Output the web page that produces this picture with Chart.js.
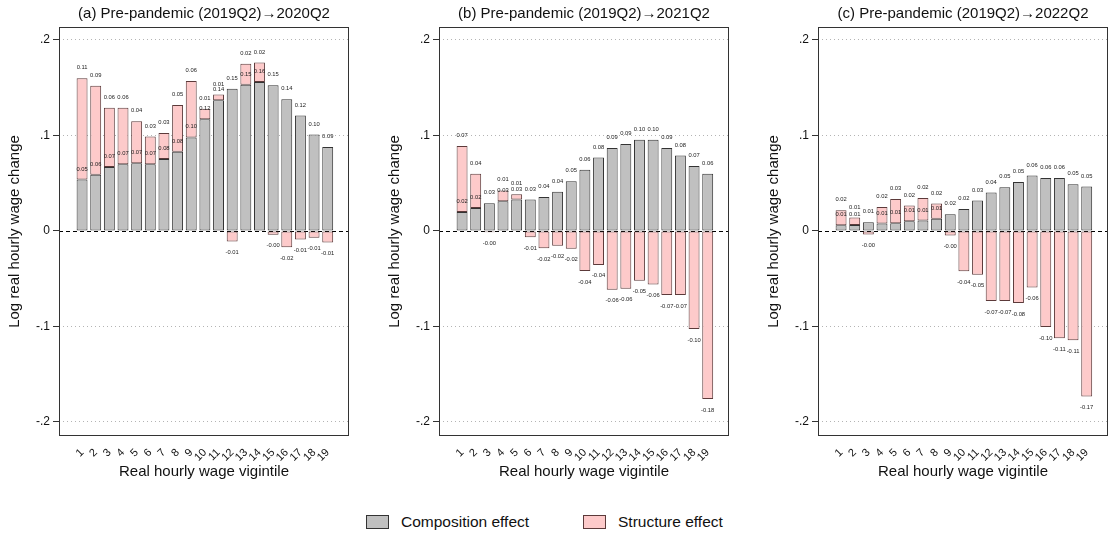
<!DOCTYPE html>
<html>
<head>
<meta charset="utf-8">
<script src="https://cdn.jsdelivr.net/npm/chart.js@4.4.1/dist/chart.umd.min.js"></script>
<style>
  body { margin: 0; width: 1108px; height: 536px; overflow: hidden; background: #fff; position: relative;
         font-family: 'Liberation Sans', Arial, sans-serif; }
  canvas { position: absolute; top: 0; }
  .lg-item { position: absolute; top: 513px; display: flex; align-items: center; font-size: 15.5px; color: #111; }
  .lg-box { width: 21px; height: 12px; margin-right: 12px; border: 1px solid #333; }
</style>
</head>
<body>
<canvas id="panelA" width="350" height="485" style="left:0px"></canvas>
<canvas id="panelB" width="350" height="485" style="left:380px"></canvas>
<canvas id="panelC" width="350" height="485" style="left:759px"></canvas>
<div class="lg-item" style="left:366px"><span class="lg-box" style="background:#c0c0c0"></span>Composition effect</div>
<div class="lg-item" style="left:583px"><span class="lg-box" style="background:#fdcaca;border-color:#5c3a3a"></span>Structure effect</div>
<script>
/**
 * Composition vs structure effect by wage vigintile, three periods
 */
const FONT = "'Liberation Sans', Arial, sans-serif";
const GREY = '#c0c0c0';
const GREY_LINE = '#333333';
const PINK = '#fdcaca';
const PINK_LINE = '#5c3a3a';

const xTicks = [1, 2, 3, 4, 5, 6, 7, 8, 9, 10, 11, 12, 13, 14, 15, 16, 17, 18, 19];
const xTickLabels = ['1', '2', '3', '4', '5', '6', '7', '8', '9', '10', '11', '12', '13', '14', '15', '16', '17', '18', '19'];
const yTicks = [0.2, 0.1, 0, -0.1, -0.2];
const yTickLabels = ['.2', '.1', '0', '-.1', '-.2'];

const panelTitles = [
  '(a) Pre-pandemic (2019Q2)\u21922020Q2',
  '(b) Pre-pandemic (2019Q2)\u21922021Q2',
  '(c) Pre-pandemic (2019Q2)\u21922022Q2',
];

// (a) 2019Q2 -> 2020Q2
const compA = [0.054, 0.059, 0.067, 0.070, 0.071, 0.070, 0.0755, 0.083, 0.098, 0.117, 0.137, 0.149, 0.153, 0.156, 0.1525, 0.138, 0.121, 0.101, 0.088];
const structA = [0.106, 0.093, 0.062, 0.059, 0.044, 0.029, 0.027, 0.049, 0.059, 0.011, 0.006, -0.011, 0.022, 0.0205, -0.004, -0.017, -0.009, -0.007, -0.012];

// (b) 2019Q2 -> 2021Q2
const compB = [0.020, 0.024, 0.029, 0.031, 0.033, 0.033, 0.0355, 0.041, 0.052, 0.064, 0.077, 0.087, 0.091, 0.0955, 0.0955, 0.087, 0.079, 0.068, 0.060];
const structB = [0.069, 0.036, -0.0014, 0.0115, 0.0055, -0.0065, -0.018, -0.0155, -0.0185, -0.042, -0.0355, -0.0615, -0.0605, -0.052, -0.056, -0.067, -0.067, -0.1026, -0.176];

// (c) 2019Q2 -> 2022Q2
const compC = [0.006, 0.0063, 0.0091, 0.0077, 0.008, 0.0102, 0.0109, 0.0128, 0.0175, 0.023, 0.0318, 0.0402, 0.0458, 0.0513, 0.058, 0.0555, 0.0555, 0.049, 0.0465];
const structC = [0.0157, 0.0077, -0.0038, 0.0174, 0.0255, 0.0164, 0.0237, 0.0159, -0.0048, -0.0422, -0.0458, -0.0733, -0.0733, -0.0755, -0.0593, -0.1005, -0.1124, -0.1145, -0.1733];

const panelTitle = {
  id: 'panelTitle',
  afterDraw(chart, args, opts) {
    const { ctx, chartArea } = chart;
    ctx.save();
    ctx.font = '15px ' + FONT;
    ctx.fillStyle = '#111';
    ctx.textAlign = 'center';
    ctx.textBaseline = 'middle';
    ctx.fillText(opts.text, (chartArea.left + chartArea.right) / 2, 14);
    ctx.restore();
  },
};

const frameAndZero = {
  id: 'frameAndZero',
  beforeDatasetsDraw(chart) {
    const { ctx, chartArea, scales } = chart;
    const y0 = Math.round(scales.y.getPixelForValue(0)) + 0.5;
    ctx.save();
    ctx.strokeStyle = '#000';
    ctx.lineWidth = 1;
    ctx.setLineDash([4, 3]);
    ctx.beginPath();
    ctx.moveTo(chartArea.left, y0);
    ctx.lineTo(chartArea.right, y0);
    ctx.stroke();
    ctx.restore();
  },
  afterDraw(chart) {
    const { ctx, chartArea } = chart;
    ctx.save();
    ctx.strokeStyle = '#333';
    ctx.lineWidth = 1;
    const l = Math.round(chartArea.left) + 0.5;
    const t = Math.round(chartArea.top) + 0.5;
    const r = Math.round(chartArea.right) - 0.5;
    const b = Math.round(chartArea.bottom) - 0.5;
    ctx.strokeRect(l, t, r - l, b - t);
    ctx.restore();
  },
};

const valueLabels = {
  id: 'valueLabels',
  afterDatasetsDraw(chart) {
    const ctx = chart.ctx;
    ctx.save();
    ctx.font = '5.8px ' + FONT;
    ctx.fillStyle = '#222';
    ctx.textAlign = 'center';
    ctx.textBaseline = 'middle';
    chart.data.datasets.forEach((ds, di) => {
      chart.getDatasetMeta(di).data.forEach((bar, i) => {
        const v = ds.data[i].y;
        const y = v >= 0 ? bar.y - 10.5 : bar.y + 11;
        ctx.fillText(v.toFixed(2), bar.x, y);
      });
    });
    ctx.restore();
  },
};

function points(values) {
  return values.map((v, i) => ({ x: xTicks[i], y: v }));
}

function makePanel(id, title, comp, struct) {
  return new Chart(document.getElementById(id), {
    type: 'bar',
    data: {
      datasets: [
        { label: 'Composition effect', data: points(comp), backgroundColor: GREY, borderColor: GREY_LINE, borderWidth: 1, borderSkipped: false },
        { label: 'Structure effect', data: points(struct), backgroundColor: PINK, borderColor: PINK_LINE, borderWidth: 1, borderSkipped: false },
      ],
    },
    options: {
      responsive: false,
      animation: false,
      events: [],
      layout: { padding: { top: 27, right: 1, left: 0, bottom: 0 } },
      datasets: { bar: { categoryPercentage: 1, barPercentage: 0.8 } },
      plugins: {
        legend: { display: false },
        tooltip: { enabled: false },
        title: { display: false },
        panelTitle: { text: title },
      },
      scales: {
        x: {
          type: 'linear',
          stacked: true,
          offset: false,
          min: -0.69,
          max: 20.56,
          grid: { display: false },
          border: { display: false },
          afterBuildTicks: (s) => { s.ticks = xTicks.map((v) => ({ value: v })); },
          afterFit: (s) => { s.height = 49; },
          ticks: {
            autoSkip: false,
            minRotation: 45,
            maxRotation: 45,
            padding: 2,
            color: '#111',
            font: { family: FONT, size: 11 },
            callback: (v) => xTickLabels[xTicks.indexOf(v)],
          },
          title: {
            display: true,
            text: 'Real hourly wage vigintile',
            color: '#111',
            font: { family: FONT, size: 15 },
            padding: { top: 0, bottom: 4 },
          },
        },
        y: {
          stacked: true,
          min: -0.2147,
          max: 0.2136,
          afterBuildTicks: (s) => { s.ticks = yTicks.map((v) => ({ value: v })); },
          afterFit: (s) => { s.width = 59; },
          grid: {
            color: (c) => (c.tick && c.tick.value === 0 ? 'rgba(0,0,0,0)' : '#b4b4b4'),
            tickColor: '#333',
            tickLength: 6,
            lineWidth: 1,
          },
          border: { display: false, dash: [1, 3] },
          ticks: {
            padding: 3,
            color: '#111',
            font: { family: FONT, size: 12 },
            callback: (v) => yTickLabels[yTicks.indexOf(v)],
          },
          title: {
            display: true,
            text: 'Log real hourly wage change',
            color: '#111',
            font: { family: FONT, size: 15 },
            padding: { top: 6, bottom: 0 },
          },
        },
      },
    },
    plugins: [frameAndZero, valueLabels, panelTitle],
  });
}

makePanel('panelA', panelTitles[0], compA, structA);
makePanel('panelB', panelTitles[1], compB, structB);
makePanel('panelC', panelTitles[2], compC, structC);
</script>
</body>
</html>
